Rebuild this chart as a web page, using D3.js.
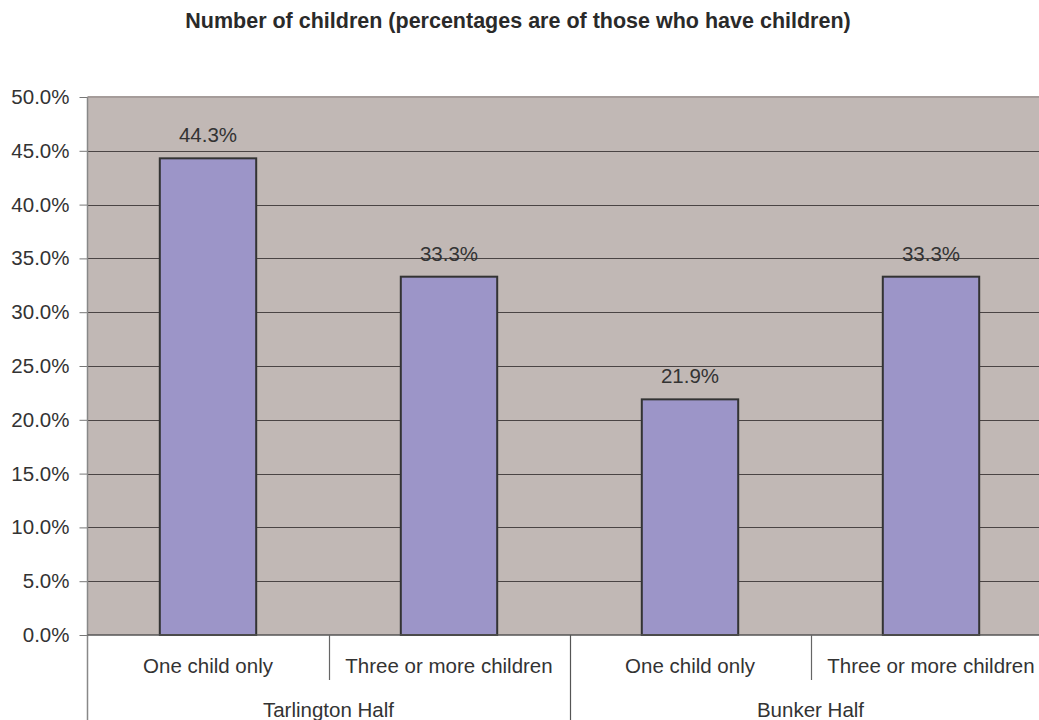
<!DOCTYPE html>
<html>
<head>
<meta charset="utf-8">
<script src="https://cdn.jsdelivr.net/npm/d3@7"></script>
<style>
html,body{margin:0;padding:0;background:#fff;}
svg{display:block;font-family:"Liberation Sans",Arial,sans-serif;}
</style>
</head>
<body>
<svg id="chart" width="1039" height="720"></svg>
<script>
const title = "Number of children (percentages are of those who have children)";
const groups = ["Tarlington Half", "Bunker Half"];
const categories = ["One child only", "Three or more children"];
const values = [44.3, 33.3, 21.9, 33.3];
const yTicks = [0, 5, 10, 15, 20, 25, 30, 35, 40, 45, 50];

(function () {
const data = [];
groups.forEach((g, gi) => categories.forEach((c, ci) => data.push({key: g + "|" + c, group: g, cat: c, value: values[gi * categories.length + ci]})));

const svg = d3.select("#chart");
const pLeft = 87.5, pTop = 97, pBottom = 635;
const plotRight = pLeft + 241 * data.length;
const fs = 20.5;

const x = d3.scaleBand().domain(data.map(d => d.key)).range([pLeft, plotRight]).paddingInner(0).paddingOuter(0);
const y = d3.scaleLinear().domain([0, 50]).range([pBottom, pTop]);

svg.append("text").attr("x", 518).attr("y", 28).attr("text-anchor", "middle")
  .attr("font-weight", "bold").attr("font-size", 21.5).attr("fill", "#2a2a2a").text(title);

// plot background
svg.append("rect").attr("x", pLeft).attr("y", pTop).attr("width", plotRight - pLeft).attr("height", pBottom - pTop).attr("fill", "#c1b8b5");

// gridlines
svg.append("g").selectAll("line").data(yTicks.filter(t => t > 0 && t < 50)).join("line")
  .attr("x1", pLeft).attr("x2", plotRight)
  .attr("y1", d => Math.round(y(d)) + 0.5).attr("y2", d => Math.round(y(d)) + 0.5)
  .attr("stroke", "#4a4444").attr("stroke-width", 1);
svg.append("line").attr("x1", pLeft).attr("x2", plotRight).attr("y1", pTop).attr("y2", pTop)
  .attr("stroke", "#a59c9a").attr("stroke-width", 2);

// y axis
const yAxis = d3.axisLeft(y).tickValues(yTicks).tickSize(8).tickPadding(10).tickFormat(d => d.toFixed(1) + "%");
const ya = svg.append("g").attr("transform", `translate(${pLeft},0)`).call(yAxis);
ya.select(".domain").remove();
ya.selectAll(".tick line").attr("stroke", "#777");
ya.selectAll(".tick text").attr("font-size", fs).attr("fill", "#333").attr("font-family", "Liberation Sans, Arial, sans-serif");
svg.append("line").attr("x1", pLeft).attr("x2", pLeft).attr("y1", pTop).attr("y2", 720).attr("stroke", "#888").attr("stroke-width", 1.5);

// bars
const bw = x.bandwidth() * 0.4;
svg.append("g").selectAll("rect").data(data).join("rect")
  .attr("x", d => x(d.key) + (x.bandwidth() - bw) / 2)
  .attr("y", d => y(d.value))
  .attr("width", bw)
  .attr("height", d => y(0) - y(d.value))
  .attr("fill", "#9c95c8").attr("stroke", "#333").attr("stroke-width", 2);

// value labels
svg.append("g").selectAll("text").data(data).join("text")
  .attr("x", d => x(d.key) + x.bandwidth() / 2)
  .attr("y", d => y(d.value) - 16)
  .attr("text-anchor", "middle").attr("font-size", fs).attr("fill", "#333")
  .text(d => d.value.toFixed(1) + "%");

// baseline
svg.append("line").attr("x1", pLeft).attr("x2", plotRight).attr("y1", pBottom).attr("y2", pBottom).attr("stroke", "#555").attr("stroke-width", 1.5);

// category labels
svg.append("g").selectAll("text").data(data).join("text")
  .attr("x", d => x(d.key) + x.bandwidth() / 2)
  .attr("y", 673).attr("text-anchor", "middle").attr("font-size", fs).attr("fill", "#333")
  .text(d => d.cat);

// dividers between categories
data.forEach((d, i) => {
  if (i === 0) return;
  const xx = Math.round(x(d.key)) + 0.5;
  const isGroup = i % categories.length === 0;
  svg.append("line").attr("x1", xx).attr("x2", xx).attr("y1", pBottom).attr("y2", isGroup ? 720 : 680)
    .attr("stroke", isGroup ? "#555" : "#666").attr("stroke-width", 1.2);
});

// group labels
groups.forEach((g) => {
  const first = x(g + "|" + categories[0]);
  const last = x(g + "|" + categories[categories.length - 1]) + x.bandwidth();
  svg.append("text").attr("x", (first + last) / 2).attr("y", 717).attr("text-anchor", "middle")
    .attr("font-size", fs).attr("fill", "#333").text(g);
});
})();
</script>
</body>
</html>
